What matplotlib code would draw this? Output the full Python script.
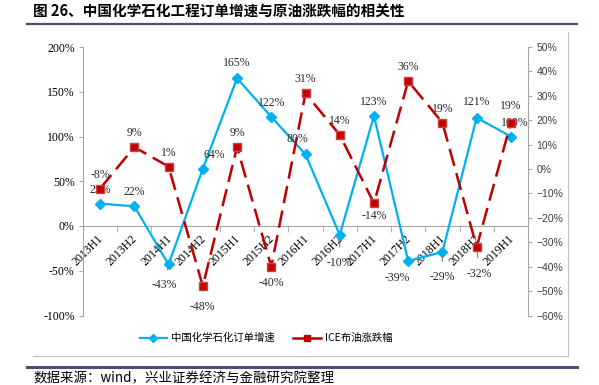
import matplotlib
matplotlib.use("Agg")
import matplotlib.pyplot as plt
from matplotlib.lines import Line2D
from matplotlib.ticker import FixedLocator, FuncFormatter
import matplotlib.transforms as mtransforms

plt.rcParams['font.family'] = ['Noto Sans CJK SC', 'DejaVu Sans']

categories = ["2013H1", "2013H2", "2014H1", "2014H2", "2015H1", "2015H2", "2016H1",
              "2016H2", "2017H1", "2017H2", "2018H1", "2018H2", "2019H1"]
orders_growth = [25, 22, -43, 64, 165, 122, 80, -10, 123, -39, -29, 121, 100]
brent_change = [-8, 9, 1, -48, 9, -40, 31, 14, -14, 36, 19, -32, 19]
left_ticks = [-100, -50, 0, 50, 100, 150, 200]
right_ticks = [-60, -50, -40, -30, -20, -10, 0, 10, 20, 30, 40, 50]
name_orders = "中国化学石化订单增速"
name_brent = "ICE布油涨跌幅"
title = "图 26、中国化学石化工程订单增速与原油涨跌幅的相关性"
source = "数据来源：wind，兴业证券经济与金融研究院整理"

BLUE = "#00B0F0"
RED = "#C00000"
GRAY = "#A6A6A6"
NAVY = "#4E4E7E"
SERIF = "Liberation Serif"

fig = plt.figure(figsize=(5.99, 3.85), dpi=100)
W, H = 599, 385
x0, x1, ytop, ybot = 83, 528, 47, 315.5
ax = fig.add_axes([x0 / W, 1 - ybot / H, (x1 - x0) / W, (ybot - ytop) / H])
ax2 = ax.twinx()

x = list(range(len(categories)))
ax.set_xlim(-0.5, len(categories) - 0.5)
ax.set_ylim(-100, 200)
ax2.set_ylim(-60, 50)

ax.plot(x, orders_growth, color=BLUE, lw=1.6, marker='D', ms=5, mfc=BLUE, mec=BLUE,
        zorder=3, label=name_orders)
ax2.plot(x, brent_change, color=RED, lw=1.8, dashes=(7, 3), marker='s', ms=5.5,
         mfc=RED, mec="#D04040", zorder=3, label=name_brent)

# spines
for a in (ax, ax2):
    a.spines['top'].set_visible(False)
ax.spines['right'].set_visible(False)
ax2.spines['left'].set_visible(False)
ax2.spines['bottom'].set_visible(False)
ax.spines['left'].set_color(GRAY)
ax2.spines['right'].set_color(GRAY)
ax.spines['bottom'].set_position(('data', 0))
ax.spines['bottom'].set_color(GRAY)

ax.yaxis.set_major_locator(FixedLocator(left_ticks))
ax.yaxis.set_major_formatter(FuncFormatter(lambda v, p: f"{v:.0f}%"))
ax.tick_params(axis='y', direction='out', length=3, color=GRAY, pad=3, labelsize=8.5)
for t in ax.get_yticklabels():
    t.set_fontfamily(SERIF)
ax2.yaxis.set_major_locator(FixedLocator(right_ticks))
ax2.yaxis.set_major_formatter(FuncFormatter(lambda v, p: f"{v:.0f}%".replace("-", "−")))
ax2.tick_params(axis='y', direction='out', length=3, color=GRAY, pad=3, labelsize=7.5,
                labelcolor="#404040")
for t in ax2.get_yticklabels():
    t.set_fontfamily("Liberation Sans")

ax.set_xticks(x)
ax.set_xticklabels(categories, rotation=45, ha='right', va='top', fontsize=8.5,
                   fontfamily=SERIF)
ax.set_xticks([i - 0.5 for i in range(len(categories) + 1)], minor=True)
ax.tick_params(axis='x', which='major', length=0, pad=5)
ax.tick_params(axis='x', which='minor', length=4, color=GRAY, direction='out')
offset = mtransforms.ScaledTranslation(4 / 72, 0, fig.dpi_scale_trans)
for t in ax.get_xticklabels():
    t.set_transform(t.get_transform() + offset)

# data labels (offsets in points; leader lines for some)
blue_off = {0: (0, 10), 1: (0, 10), 2: (-3, -15), 3: (8, 10), 4: (0, 11), 5: (0, 10),
            6: (-6, 11), 7: (0, -20), 8: (0, 10), 9: (-8, -12), 10: (0, -18),
            11: (0, 11), 12: (3, 10)}
blue_lead = {2, 7, 10}
red_off = {0: (0, 10), 1: (0, 10), 2: (0, 10), 3: (0, -15), 4: (0, 10), 5: (0, -12),
           6: (0, 10), 7: (0, 10), 8: (0, -9), 9: (0, 10), 10: (0, 10), 11: (2, -19),
           12: (0, 12)}
red_lead = {3, 11}

def put_labels(a, vals, offs, leads):
    for i, v in enumerate(vals):
        dx, dy = offs[i]
        kw = dict(textcoords='offset points', ha='center', va='center', fontsize=8.5,
                  fontfamily=SERIF, color="#262626", zorder=5)
        if i in leads:
            kw['arrowprops'] = dict(arrowstyle='-', color="#7F7F7F", lw=0.8,
                                    shrinkA=5, shrinkB=3)
        a.annotate(f"{v}%", (i, v), xytext=(dx, dy), **kw)

put_labels(ax, orders_growth, blue_off, blue_lead)
put_labels(ax2, brent_change, red_off, red_lead)

# legend
h1 = Line2D([], [], color=BLUE, lw=1.6, marker='D', ms=4.5)
h2 = Line2D([], [], color=RED, lw=1.8, marker='s', ms=5)
fig.legend([h1, h2], [name_orders, name_brent], loc='center',
           bbox_to_anchor=(266 / W, 1 - 338 / H), ncol=2, frameon=False,
           fontsize=7.5, handlelength=2.6, handletextpad=0.4, columnspacing=1.8)

# frame lines
fig.add_artist(Line2D([33 / W, 568 / W], [1 - 356 / H, 1 - 356 / H], color="#BFBFBF", lw=0.8))
fig.add_artist(Line2D([568 / W, 568 / W], [1 - 32 / H, 1 - 356 / H], color="#BFBFBF", lw=0.8))
fig.add_artist(Line2D([27 / W, 577 / W], [1 - 24 / H, 1 - 24 / H], color=NAVY, lw=1.6))
fig.add_artist(Line2D([27 / W, 577 / W], [1 - 367 / H, 1 - 367 / H], color=NAVY, lw=2.2))

fig.text(33 / W, 1 - 12 / H, title, fontsize=10.5, fontweight='bold', va='center', ha='left')
fig.text(33 / W, 1 - 378 / H, source, fontsize=9.7, va='center', ha='left')

fig.savefig("out.png", dpi=100)
